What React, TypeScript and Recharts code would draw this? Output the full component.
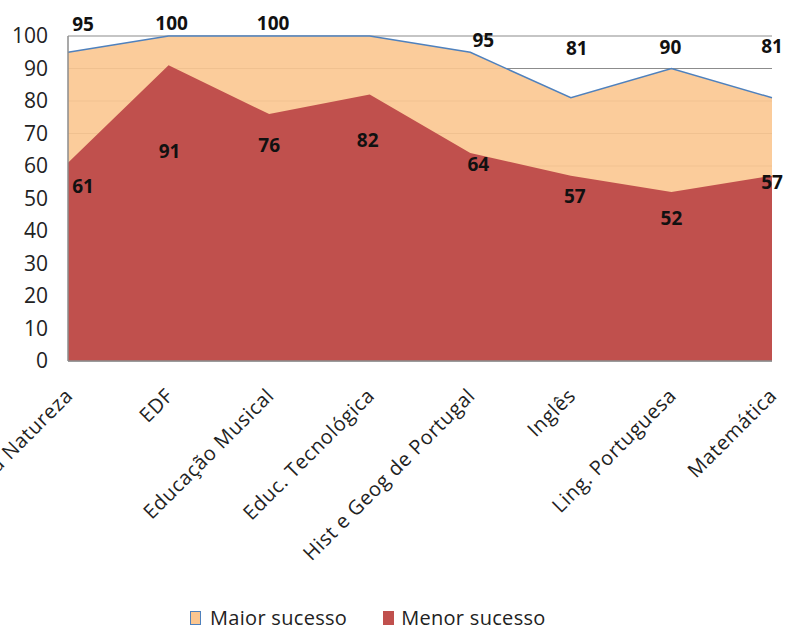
import React from "react"
import {
  AreaChart,
  Area,
  XAxis,
  YAxis,
  CartesianGrid,
  LabelList,
} from "recharts"

const SUBJECTS = [
  "Ciências da Natureza",
  "EDF",
  "Educação Musical",
  "Educ. Tecnológica",
  "Hist e Geog de Portugal",
  "Inglês",
  "Ling. Portuguesa",
  "Matemática",
]
const MAIOR_SUCESSO = [95, 100, 100, 100, 95, 81, 90, 81]
const MENOR_SUCESSO = [61, 91, 76, 82, 64, 57, 52, 57]
const Y_TICKS = [0, 10, 20, 30, 40, 50, 60, 70, 80, 90, 100]

// label nudges (px from the point), as placed in the original sheet
const MAIOR_LABEL_NUDGE = [
  [15, -28], [3, -13], [4, -13], [0, -13], [13, -12], [6, -50], [-1, -22], [0, -52],
]
const MAIOR_LABEL_HIDDEN = [3]
const MENOR_LABEL_NUDGE = [
  [15, 23], [1, 86], [0, 31], [-2, 45], [8, 11], [4, 20], [0, 26], [0, 6],
]

const FONT = "'Open Sans', sans-serif"
const ORANGE = "#FBC690"
const RED = "#C0504D"
const BLUE = "#4F81BD"
const GRID = "#8C8C8C"

const data = SUBJECTS.map((name, i) => ({
  name,
  maior: MAIOR_SUCESSO[i],
  menor: MENOR_SUCESSO[i],
}))

function SubjectTick({ x, y, payload }: any) {
  const ax = x + 6
  const ay = y + 36
  return (
    <text
      x={ax}
      y={ay}
      transform={`rotate(-45 ${ax} ${ay})`}
      textAnchor="end"
      fontFamily={FONT}
      fontSize={20}
      letterSpacing={0.6}
      fill="#222"
    >
      {payload.value}
    </text>
  )
}

function makeLabel(nudges: number[][], hidden: number[]) {
  return (props: any) => {
    const { x, y, value, index } = props
    if (hidden.includes(index)) return null
    const [dx, dy] = nudges[index]
    return (
      <text
        x={x + dx}
        y={y + dy}
        textAnchor="middle"
        dominantBaseline="central"
        fontFamily={FONT}
        fontWeight={700}
        fontSize={19}
        fill="#111"
      >
        {value}
      </text>
    )
  }
}

export default function App() {
  return (
    <div style={{ position: "relative", width: 787, height: 630, background: "#fff" }}>
      <style>{"body{margin:0}"}</style>
      <AreaChart
        width={787}
        height={630}
        data={data}
        margin={{ top: 36, right: 15, bottom: 0, left: 0 }}
      >
        <CartesianGrid horizontal vertical={false} stroke={GRID} strokeWidth={1.2} />
        <XAxis
          dataKey="name"
          interval={0}
          height={269}
          tickLine={false}
          tickSize={0}
          tickMargin={0}
          axisLine={{ stroke: GRID, strokeWidth: 1.5 }}
          tick={<SubjectTick />}
        />
        <YAxis
          domain={[0, 100]}
          ticks={Y_TICKS}
          width={68}
          tickLine={false}
          tickSize={0}
          tickMargin={20}
          axisLine={{ stroke: GRID, strokeWidth: 1.5 }}
          tick={{ fontFamily: FONT, fontSize: 21, fill: "#222" }}
        />
        <Area
          type="linear"
          dataKey="maior"
          name="Maior sucesso"
          fill={ORANGE}
          fillOpacity={0.9}
          stroke={BLUE}
          strokeWidth={1.5}
          dot={false}
          activeDot={false}
          isAnimationActive={false}
        >
          <LabelList dataKey="maior" content={makeLabel(MAIOR_LABEL_NUDGE, MAIOR_LABEL_HIDDEN)} />
        </Area>
        <Area
          type="linear"
          dataKey="menor"
          name="Menor sucesso"
          fill={RED}
          fillOpacity={1}
          stroke="none"
          dot={false}
          activeDot={false}
          isAnimationActive={false}
        >
          <LabelList dataKey="menor" content={makeLabel(MENOR_LABEL_NUDGE, [])} />
        </Area>
      </AreaChart>
      <div
        style={{
          position: "absolute",
          top: 604,
          left: 190,
          display: "flex",
          gap: 36,
          fontFamily: FONT,
          fontSize: 20,
          letterSpacing: 0.3,
          color: "#222",
          whiteSpace: "nowrap",
        }}
      >
        <span style={{ display: "flex", alignItems: "center", gap: 9 }}>
          <span
            style={{
              width: 9,
              height: 12,
              background: ORANGE,
              border: `1.5px solid ${BLUE}`,
            }}
          />
          Maior sucesso
        </span>
        <span style={{ display: "flex", alignItems: "center", gap: 7 }}>
          <span style={{ width: 11, height: 14, background: RED }} />
          Menor sucesso
        </span>
      </div>
    </div>
  )
}
